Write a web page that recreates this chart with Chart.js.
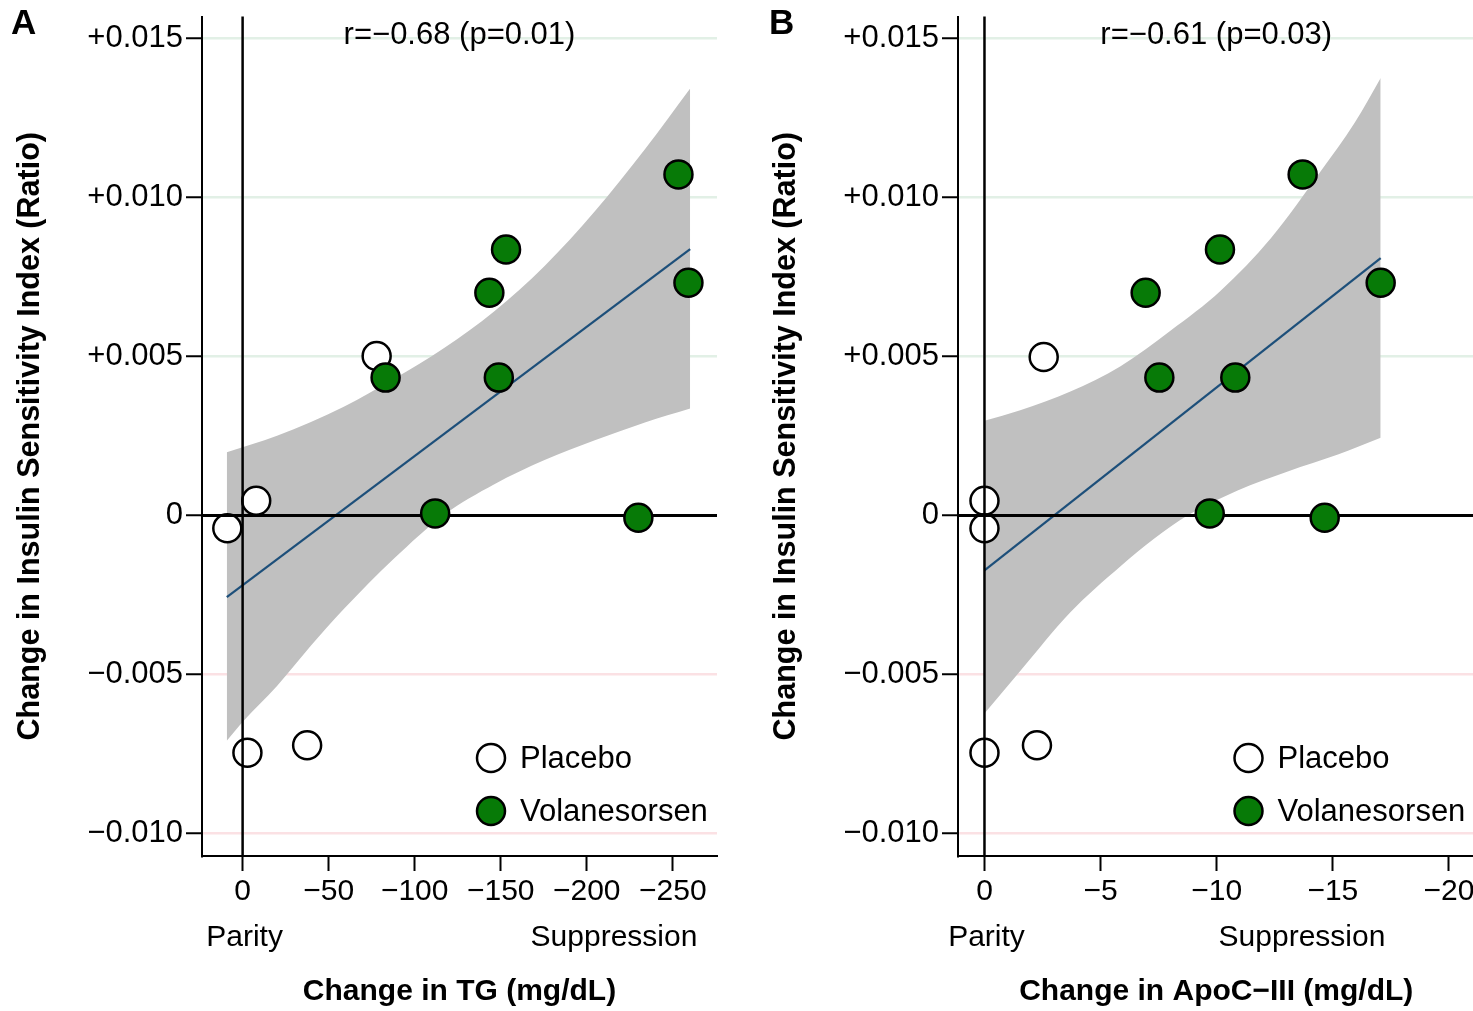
<!DOCTYPE html>
<html>
<head>
<meta charset="utf-8">
<script src="https://cdn.jsdelivr.net/npm/chart.js@4.4.1/dist/chart.umd.min.js"></script>
<style>
  html, body { margin: 0; padding: 0; background: #fff; }
  #wrap { position: relative; width: 1473px; height: 1011px; overflow: hidden; }
  canvas { position: absolute; top: 0; }
</style>
</head>
<body>
<div id="wrap">
  <canvas id="panelA" width="756" height="1011" style="left:0;width:756px;height:1011px"></canvas>
  <canvas id="panelB" width="735" height="1011" style="left:756px;width:735px;height:1011px"></canvas>
</div>
<script>
// y axis (shared by both panels)
const yTickValues = [0.015, 0.010, 0.005, 0, -0.005, -0.010];
const yTickLabels = ['+0.015', '+0.010', '+0.005', '0', '\u22120.005', '\u22120.010'];

// Panel A: change in TG (mg/dL)
const xTicksTG = [0, -50, -100, -150, -200, -250];
const placeboTG = [[8.9, -0.0004], [-7.9, 0.00047], [-77.9, 0.00502], [-2.8, -0.00746], [-37.5, -0.00722]];
const volanTG = [[-83.1, 0.00434], [-143.4, 0.00701], [-153.1, 0.00837], [-148.9, 0.00434],
                 [-111.9, 0.00007], [-230.0, -0.00007], [-253.3, 0.01073], [-259.1, 0.00732]];
const fitTG = [[9.2, -0.00256], [-260.1, 0.00838]];
const bandTGUpper = [[9.2, 0.00199], [-20.0, 0.00251], [-58.8, 0.00342], [-88.0, 0.0043], [-117.1, 0.00527],
                     [-146.3, 0.00643], [-175.5, 0.00785], [-204.7, 0.00957], [-233.8, 0.01152], [-260.1, 0.01343]];
const bandTGLower = [[9.2, -0.00708], [-0.5, -0.00646], [-20.0, -0.00536], [-39.4, -0.00411], [-58.8, -0.00294],
                     [-88.0, -0.00135], [-117.1, 0.00003], [-146.3, 0.00099], [-175.5, 0.00175], [-204.7, 0.00237],
                     [-233.8, 0.00293], [-260.1, 0.00337]];

// Panel B: change in ApoC-III (mg/dL)
const xTicksApo = [0, -5, -10, -15, -20];
const placeboApo = [[0, 0.00047], [0, -0.0004], [-2.55, 0.00499], [0, -0.00746], [-2.26, -0.00722]];
const volanApo = [[-13.7, 0.01073], [-10.14, 0.00837], [-6.94, 0.00701], [-17.06, 0.00732],
                  [-7.53, 0.00434], [-10.8, 0.00434], [-9.7, 0.00007], [-14.65, -0.00007]];
const fitApo = [[0, -0.00172], [-17.06, 0.0081]];
const bandApoUpper = [[0, 0.00298], [-1.54, 0.00331], [-3.7, 0.0039], [-5.86, 0.0047], [-8.02, 0.00582],
                      [-10.18, 0.00708], [-12.34, 0.00873], [-14.5, 0.01085], [-15.94, 0.01235], [-17.06, 0.01376]];
const bandApoLower = [[0, -0.00622], [-1.54, -0.00489], [-3.7, -0.00304], [-5.86, -0.00159], [-7.3, -0.00073],
                      [-8.74, 0.0], [-10.9, 0.00079], [-13.06, 0.00139], [-15.22, 0.00192], [-17.06, 0.00245]];

const GREEN = '#077a07';
const FIT_BLUE = '#1d4f7a';
const BAND_GREY = '#c0c0c0';
const GRID_POS = '#e2f0e6';
const GRID_NEG = '#fbe1e4';

Chart.defaults.font.family = "'Liberation Sans', Arial, Helvetica, sans-serif";
Chart.defaults.color = '#000';

const toXY = arr => arr.map(p => ({ x: p[0], y: p[1] }));
const minus = v => v === 0 ? '0' : (v < 0 ? '\u2212' + Math.abs(v) : String(v));

// zero lines, legend, annotations
const panelDecor = {
    id: 'panelDecor',
    afterDatasetDraw(chart, args) {
        if (args.index !== 1) return;   // after placebo points, before volanesorsen
        const { ctx, chartArea: a, scales: { x, y } } = chart;
        const x0 = x.getPixelForValue(0);
        const y0 = y.getPixelForValue(0);
        ctx.save();
        ctx.strokeStyle = '#000';
        ctx.lineWidth = 3;
        ctx.beginPath(); ctx.moveTo(a.left, y0); ctx.lineTo(a.right, y0); ctx.stroke();
        ctx.lineWidth = 2.5;
        ctx.beginPath(); ctx.moveTo(x0, a.top); ctx.lineTo(x0, a.bottom); ctx.stroke();
        ctx.restore();
    },
    afterDraw(chart, args, opts) {
        const { ctx, chartArea: a, scales: { x } } = chart;
        const fam = Chart.defaults.font.family;
        ctx.save();
        ctx.fillStyle = '#000';
        ctx.textBaseline = 'middle';

        ctx.font = 'bold 35px ' + fam;
        ctx.textAlign = 'left';
        ctx.fillText(opts.letter, opts.letterX, 24);

        ctx.font = '31px ' + fam;
        ctx.textAlign = 'center';
        ctx.fillText(opts.stat, (a.left + a.right) / 2, 35);

        ctx.font = '30px ' + fam;
        ctx.fillText('Parity', x.getPixelForValue(0) + 2, 938);
        ctx.fillText('Suppression', a.left + opts.suppX, 938);

        // legend
        const lx = a.right - 226;
        const rows = [{ y: a.bottom - 98, fill: '#fff', text: 'Placebo' },
                      { y: a.bottom - 45, fill: GREEN, text: 'Volanesorsen' }];
        ctx.font = '31px ' + fam;
        ctx.textAlign = 'left';
        rows.forEach(r => {
            ctx.beginPath();
            ctx.arc(lx, r.y, 14, 0, Math.PI * 2);
            ctx.fillStyle = r.fill;
            ctx.fill();
            ctx.lineWidth = 2.5;
            ctx.strokeStyle = '#000';
            ctx.stroke();
            ctx.fillStyle = '#000';
            ctx.fillText(r.text, lx + 29, r.y + 1);
        });
        ctx.restore();
    }
};

function makePanel(id, cfg) {
    return new Chart(document.getElementById(id), {
        type: 'scatter',
        data: {
            datasets: [
                { label: 'Volanesorsen', data: toXY(cfg.volan), pointRadius: 14, pointBackgroundColor: GREEN,
                  pointBorderColor: '#000', pointBorderWidth: 2.5, order: 0 },
                { label: 'Placebo', data: toXY(cfg.placebo), pointRadius: 14, pointBackgroundColor: '#fff',
                  pointBorderColor: '#000', pointBorderWidth: 2.5, order: 1 },
                { type: 'line', label: 'fit', data: toXY(cfg.fit), borderColor: FIT_BLUE, borderWidth: 2.2,
                  pointRadius: 0, fill: false, order: 2 },
                { type: 'line', label: 'ci upper', data: toXY(cfg.upper), borderWidth: 0, borderColor: 'rgba(0,0,0,0)',
                  pointRadius: 0, fill: '+1', backgroundColor: BAND_GREY, cubicInterpolationMode: 'monotone', order: 4 },
                { type: 'line', label: 'ci lower', data: toXY(cfg.lower), borderWidth: 0, borderColor: 'rgba(0,0,0,0)',
                  pointRadius: 0, fill: false, cubicInterpolationMode: 'monotone', order: 3 }
            ]
        },
        options: {
            responsive: false,
            animation: false,
            events: [],
            layout: { padding: { top: 15, right: cfg.padRight, left: 0, bottom: 0 } },
            plugins: {
                legend: { display: false },
                tooltip: { enabled: false },
                panelDecor: { letter: cfg.letter, letterX: cfg.letterX, stat: cfg.stat, suppX: cfg.suppX }
            },
            scales: {
                x: {
                    type: 'linear', reverse: true, min: cfg.xMin, max: cfg.xMax,
                    afterBuildTicks: s => { s.ticks = cfg.xTicks.map(v => ({ value: v })); },
                    afterFit: s => { s.height = 155; s.paddingLeft = 0; s.paddingRight = 0; },
                    grid: { drawOnChartArea: false, drawTicks: true, tickLength: 15, tickColor: '#000', tickWidth: 2 },
                    border: { display: true, color: '#000', width: 2 },
                    ticks: { padding: 3, maxRotation: 0, autoSkip: false, font: { size: 30 }, color: '#000',
                             callback: v => minus(v) },
                    title: { display: true, text: cfg.xTitle, font: { size: 30, weight: 'bold' }, color: '#000',
                             padding: { top: 0, bottom: 1 } }
                },
                y: {
                    type: 'linear', min: -0.010704, max: 0.015695,
                    afterBuildTicks: s => { s.ticks = yTickValues.map(v => ({ value: v })); },
                    afterFit: s => { s.width = 202; s.paddingTop = 0; s.paddingBottom = 0; },
                    grid: {
                        color: c => c.tick.value > 0 ? GRID_POS : (c.tick.value < 0 ? GRID_NEG : 'rgba(0,0,0,0)'),
                        lineWidth: 2.5, drawTicks: true, tickLength: 16, tickColor: '#000', tickWidth: 2
                    },
                    border: { display: true, color: '#000', width: 2 },
                    ticks: { padding: 3, autoSkip: false, font: { size: 31 }, color: '#000',
                             callback: v => yTickLabels[yTickValues.indexOf(v)] },
                    title: { display: true, text: 'Change in Insulin Sensitivity Index (Ratio)',
                             font: { size: 30.5, weight: 'bold' }, color: '#000', padding: { top: 12, bottom: 0 } }
                }
            }
        },
        plugins: [panelDecor]
    });
}

makePanel('panelA', {
    letter: 'A', letterX: 11, stat: 'r=\u22120.68 (p=0.01)', suppX: 412, padRight: 39,
    xMin: -275.7, xMax: 23.6, xTicks: xTicksTG, xTitle: 'Change in TG (mg/dL)',
    placebo: placeboTG, volan: volanTG, fit: fitTG, upper: bandTGUpper, lower: bandTGLower
});

makePanel('panelB', {
    letter: 'B', letterX: 13, stat: 'r=\u22120.61 (p=0.03)', suppX: 344, padRight: 0,
    xMin: -21.1, xMax: 1.14, xTicks: xTicksApo, xTitle: 'Change in ApoC\u2212III (mg/dL)',
    placebo: placeboApo, volan: volanApo, fit: fitApo, upper: bandApoUpper, lower: bandApoLower
});
</script>
</body>
</html>
